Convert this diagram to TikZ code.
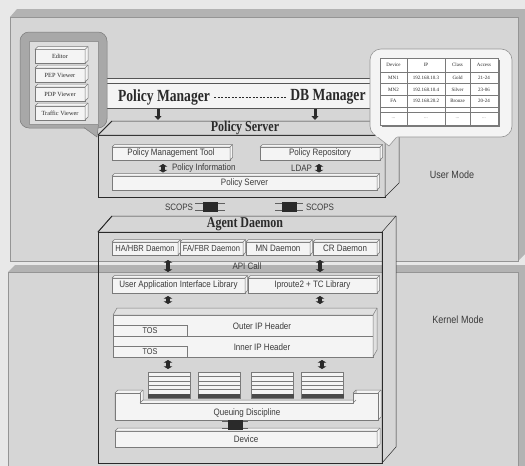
\documentclass[tikz,border=0pt]{standalone}
\usepackage{fontspec}
\setmainfont{Liberation Serif}
\newfontfamily\labfam[FakeStretch=0.86]{Liberation Sans}
\newfontfamily\ttlfam[FakeStretch=0.8]{Liberation Serif}
\usetikzlibrary{arrows.meta}
\definecolor{bgc}{HTML}{E8E8E8}
\definecolor{panel}{HTML}{D6D6D6}
\definecolor{strip}{HTML}{B3B3B3}
\definecolor{wbox}{HTML}{F4F4F4}
\definecolor{edge}{HTML}{7A7A7A}
\definecolor{ink}{HTML}{2A2A2A}
\definecolor{labc}{HTML}{3A3A3A}
\definecolor{calloutc}{HTML}{A8A8A8}
\definecolor{callin}{HTML}{DDDDDD}

% 3D top and right faces for a node: name, dx, dy, draw colour, fill colour
\newcommand{\slabfaces}[5]{%
  \filldraw[draw=#4, fill=#5, line width=0.5pt, line join=round]
    (#1.north west) -- ++(#2,-#3) -- ([shift={(#2,-#3)}]#1.north east)
    -- ([shift={(#2,-#3)}]#1.south east) -- (#1.south east) -- (#1.north east) -- cycle;
  \draw[#4, line width=0.5pt] (#1.north east) -- ++(#2,-#3);}
% connector plate: x, y, half width
\newcommand{\plateconn}[3]{%
  \draw[ink!75, line width=1.3pt] (#1-#3,#2-3.4) -- (#1+#3,#2-3.4) (#1-#3,#2+3.4) -- (#1+#3,#2+3.4);
  \fill[ink] (#1-7.5,#2-5) rectangle (#1+7.5,#2+5);}
% queue box: name, centre x
\newcommand{\queuebox}[2]{%
  \node[wb, minimum width=42pt, minimum height=26pt] (#1) at (#2,385) {};
  \foreach \k in {1,...,4} \draw[edge, line width=0.4pt] (#2-21,372+4.4*\k) -- (#2+21,372+4.4*\k);
  \fill[ink!85] (#2-21,393.5) rectangle (#2+21,398);}

\begin{document}
\begin{tikzpicture}[x=1pt,y=-1pt,
  wb/.style={draw=edge, fill=wbox, line width=0.5pt, inner sep=0pt, outer sep=0pt, text=labc, font=\labfam\fontsize{9.3}{10}\selectfont},
  big/.style={draw=ink, line width=0.9pt, inner sep=0pt, outer sep=0pt},
  lbl/.style={inner sep=0pt, outer sep=0pt, text=labc, font=\labfam\fontsize{9.3}{10}\selectfont},
  modelbl/.style={inner sep=0pt, text=labc, font=\labfam\fontsize{10.5}{11}\selectfont},
  ttl/.style={inner sep=0pt, text=ink, font=\ttlfam\bfseries\fontsize{15}{15}\selectfont},
  bigttl/.style={inner sep=0pt, text=ink, font=\ttlfam\bfseries\fontsize{17}{17}\selectfont},
  tool/.style={draw=edge, fill=wbox, line width=0.5pt, inner sep=0pt, outer sep=0pt, text=ink, font=\fontsize{6.3}{7}\selectfont, minimum width=50pt, minimum height=14pt},
  cell/.style={inner sep=0pt, text=ink, font=\fontsize{5}{5}\selectfont},
  dbl/.style={draw=ink, line width=4.5pt, {Triangle[width=8.5pt,length=2.6pt]}-{Triangle[width=8.5pt,length=2.6pt]}},
  sgl/.style={draw=ink, line width=3pt, -{Triangle[width=7pt,length=4pt]}}
]
\useasboundingbox (0,0) rectangle (525,466);
\fill[bgc] (0,0) rectangle (525,466);

% ---------- mode panels ----------
\fill[strip] (10,17) -- (17,9) -- (525,9) -- (525,254) -- (518,261) -- (518,17) -- cycle;
\filldraw[fill=panel, draw=edge!80, line width=0.5pt] (10,17) rectangle (518,261);
\fill[strip] (8,272) -- (15,265) -- (525,265) -- (525,466) -- (518,466) -- (518,272) -- cycle;
\filldraw[fill=panel, draw=edge!80, line width=0.5pt] (8,272) rectangle (518,470);
\node[modelbl] (um) at (452,175) {User Mode};
\node[modelbl] (km) at (458,320) {Kernel Mode};

% ---------- Policy Manager / DB Manager bar ----------
\node[draw=ink!80, fill=wbox, line width=0.6pt, inner sep=0pt, outer sep=0pt, minimum width=270pt, minimum height=30pt] (pmbar) at (239,93) {};
\draw[ink!80, line width=0.6pt] (104,83) -- (374,83);
\node[bigttl] (pmn) at (164,97) {Policy Manager};
\node[bigttl] (dbm) at (328,97) {DB Manager};
\draw[ink, line width=0.9pt, dash pattern=on 2.2pt off 1.3pt, shorten <=4pt, shorten >=4pt] (pmn.east) -- (dbm.west);

% ---------- Policy Server ----------
\node[big, minimum width=287pt, minimum height=62pt] (ps) at (241.5,166) {};
\slabfaces{ps}{14}{14}{ink}{panel}
\draw[ink, line width=0.9pt] (ps.north west) -- ++(14,-14);
\coordinate (pstop) at (0,121);
\node[ttl] (pst) at (245,128) {Policy Server};
\node[wb, minimum width=118pt, minimum height=13pt] (pmt) at (171,153.5) {Policy Management Tool};
\slabfaces{pmt}{2.5}{2.5}{edge}{wbox}
\node[wb, minimum width=120pt, minimum height=13pt] (prp) at (320,153.5) {Policy Repository};
\slabfaces{prp}{2.5}{2.5}{edge}{wbox}
\node[wb, minimum width=265pt, minimum height=14pt] (psb) at (244.5,183) {Policy Server};
\slabfaces{psb}{2.5}{2.5}{edge}{wbox}
\coordinate (c1) at (163,0);
\coordinate (c2) at (319,0);
\draw[dbl, shorten <=4pt, shorten >=3.5pt] (c1 |- pmt.south) -- (c1 |- psb.north);
\draw[dbl, shorten <=4pt, shorten >=3.5pt] (c2 |- prp.south) -- (c2 |- psb.north);
\node[lbl, anchor=west] (pinf) at (172,168.5) {Policy Information};
\node[lbl, anchor=east] (ldap) at (312,168.5) {LDAP};

% Policy Manager -> Policy Server
\coordinate (m1) at (158,0);
\coordinate (m2) at (315,0);
\draw[sgl, shorten <=0.5pt, shorten >=1pt] (m1 |- pmbar.south) -- (m1 |- pstop);
\draw[sgl, shorten <=0.5pt, shorten >=1pt] (m2 |- pmbar.south) -- (m2 |- pstop);

% ---------- Agent Daemon ----------
\node[big, minimum width=284pt, minimum height=231pt] (ad) at (240,347.5) {};
\slabfaces{ad}{14}{16}{ink}{panel}
\draw[ink, line width=0.9pt] (ad.north west) -- ++(14,-16);
\draw[ink, line width=0.9pt] (ad.north west) -- (ad.north east) -- (ad.south east) -- (ad.south west) -- cycle;
\node[ttl] (adt) at (245,224) {Agent Daemon};

% SCOPS
\plateconn{210}{207}{15}
\plateconn{289}{207}{14}
\node[lbl, anchor=east] (sc1) at (193,207) {SCOPS};
\node[lbl, anchor=west] (sc2) at (306,207) {SCOPS};

% daemons
\node[wb, minimum width=66pt, minimum height=13pt, font=\labfam\fontsize{8.8}{9}\selectfont] (ha) at (145,248.5) {HA/HBR Daemon};
\slabfaces{ha}{2.5}{2.5}{edge}{wbox}
\node[wb, minimum width=63pt, minimum height=13pt, font=\labfam\fontsize{8.8}{9}\selectfont] (fa) at (211.5,248.5) {FA/FBR Daemon};
\slabfaces{fa}{2.5}{2.5}{edge}{wbox}
\node[wb, minimum width=64pt, minimum height=13pt] (mn) at (278,248.5) {MN Daemon};
\slabfaces{mn}{2.5}{2.5}{edge}{wbox}
\node[wb, minimum width=64pt, minimum height=13pt] (cr) at (345,248.5) {CR Daemon};
\slabfaces{cr}{2.5}{2.5}{edge}{wbox}

\node[lbl] (api) at (247,266) {API Call};

% libraries
\node[wb, minimum width=133pt, minimum height=15pt] (uail) at (178.5,285.5) {User Application Interface Library};
\slabfaces{uail}{2.5}{2.5}{edge}{wbox}
\node[wb, minimum width=129pt, minimum height=15pt] (ipr) at (312.5,285.5) {Iproute2 + TC Library};
\slabfaces{ipr}{2.5}{2.5}{edge}{wbox}
\coordinate (a1) at (168,0);
\coordinate (a2) at (320,0);
\draw[dbl, shorten <=5pt, shorten >=6pt] (a1 |- ha.south) -- (a1 |- uail.north);
\draw[dbl, shorten <=5pt, shorten >=6pt] (a2 |- cr.south) -- (a2 |- ipr.north);

% IP headers
\node[wb, minimum width=260pt, minimum height=42pt] (hdr) at (243,336) {};
\slabfaces{hdr}{4}{7}{edge}{wbox!92!black}
\draw[edge, line width=0.5pt] (hdr.west |- 0,336) -- (hdr.east |- 0,336);
\node[wb, minimum width=74pt, minimum height=11pt, font=\labfam\fontsize{8.5}{9}\selectfont] (tos1) at (150,330.5) {TOS};
\node[wb, minimum width=74pt, minimum height=11pt, font=\labfam\fontsize{8.5}{9}\selectfont] (tos2) at (150,351.5) {TOS};
\node[lbl] (ohd) at (262,326) {Outer IP Header};
\node[lbl] (ihd) at (262,347) {Inner IP Header};
\draw[dbl, shorten <=3pt, shorten >=11pt] (a1 |- uail.south) -- (a1 |- hdr.north);
\draw[dbl, shorten <=3pt, shorten >=11pt] (a2 |- ipr.south) -- (a2 |- hdr.north);

% queues
\queuebox{q1}{169}
\queuebox{q2}{219}
\queuebox{q3}{272.5}
\queuebox{q4}{322.5}
\coordinate (b2) at (322,0);
\draw[dbl, shorten <=3pt, shorten >=3pt] (a1 |- hdr.south) -- (a1 |- q1.north);
\draw[dbl, shorten <=3pt, shorten >=3pt] (b2 |- hdr.south) -- (b2 |- q4.north);

% queuing discipline tray
\filldraw[draw=edge, fill=wbox, line width=0.5pt, line join=round]
  (115,393) -- (118,390) -- (143,390) -- (143,400) -- (356,400) -- (356,390) -- (381,390) -- (381,417) -- (378,420) -- (115,420) -- cycle;
\filldraw[draw=edge, fill=wbox, line width=0.5pt, line join=round]
  (115,393) -- (140,393) -- (140,403) -- (353,403) -- (353,393) -- (378,393) -- (378,420) -- (115,420) -- cycle;
\draw[edge, line width=0.5pt] (140,393) -- (143,390) (140,403) -- (143,400) (353,403) -- (356,400) (353,393) -- (356,390) (378,393) -- (381,390);
\node[lbl] (qd) at (247,413) {Queuing Discipline};

% device
\node[wb, minimum width=262pt, minimum height=16pt] (dev) at (246,439) {Device};
\slabfaces{dev}{3}{3}{edge}{wbox}
\plateconn{235}{425}{13}

% ---------- left callout ----------
\filldraw[fill=calloutc, draw=edge, line width=0.5pt, rounded corners=9pt] (20,32) rectangle (107,128);
\filldraw[fill=calloutc, draw=edge, line width=0.5pt] (84,127.6) -- (97,137) -- (99,120);
\fill[calloutc] (84,126) -- (97,126) -- (99,120) -- cycle;
\filldraw[fill=callin, draw=edge!80, line width=0.5pt] (29,41) rectangle (98,124);
\node[tool] (ed) at (60,56.5) {Editor};
\slabfaces{ed}{3}{3}{edge}{wbox}
\node[tool] (pep) at (60,75) {PEP Viewer};
\slabfaces{pep}{3}{3}{edge}{wbox}
\node[tool] (pdp) at (60,94) {PDP Viewer};
\slabfaces{pdp}{3}{3}{edge}{wbox}
\node[tool] (trf) at (60,113) {Traffic Viewer};
\slabfaces{trf}{3}{3}{edge}{wbox}

% ---------- right callout ----------
\filldraw[fill=wbox, draw=edge!80, line width=0.6pt, rounded corners=11pt] (370,49) rectangle (512,137);
\filldraw[fill=wbox, draw=edge!80, line width=0.6pt] (377,136.6) -- (389,146) -- (397,136.6);
\fill[wbox] (376,135) -- (398,135) -- (397,137.2) -- (377,137.2) -- cycle;
\filldraw[fill=white, draw=edge, line width=0.5pt] (380,58) rectangle (498,125);
\draw[edge, line width=0.8pt] (499.5,59.5) -- (499.5,126.5) -- (381.5,126.5);
\foreach \yy in {72,83.5,95.5,107,112} \draw[edge, line width=0.45pt] (380,\yy) -- (498,\yy);
\foreach \xx in {407,445,470} \draw[edge, line width=0.45pt] (\xx,58) -- (\xx,125);
\node[cell] (t11) at (393.5,65) {Device};
\node[cell] (t12) at (426,65) {IP};
\node[cell] (t13) at (457.5,65) {Class};
\node[cell] (t14) at (484,65) {Access};
\node[cell] (t21) at (393.5,77.7) {MN1};
\node[cell] (t22) at (426,77.7) {192.168.10.3};
\node[cell] (t23) at (457.5,77.7) {Gold};
\node[cell] (t24) at (484,77.7) {21-24};
\node[cell] (t31) at (393.5,89.5) {MN2};
\node[cell] (t32) at (426,89.5) {192.168.10.4};
\node[cell] (t33) at (457.5,89.5) {Silver};
\node[cell] (t34) at (484,89.5) {23-06};
\node[cell] (t41) at (393.5,101.2) {FA};
\node[cell] (t42) at (426,101.2) {192.168.20.2};
\node[cell] (t43) at (457.5,101.2) {Bronze};
\node[cell] (t44) at (484,101.2) {20-24};
\node[cell, text=edge] (t51) at (393.5,118.5) {...};
\node[cell, text=edge] (t52) at (426,118.5) {...};
\node[cell, text=edge] (t53) at (457.5,118.5) {...};
\node[cell, text=edge] (t54) at (484,118.5) {...};
\end{tikzpicture}
\end{document}
